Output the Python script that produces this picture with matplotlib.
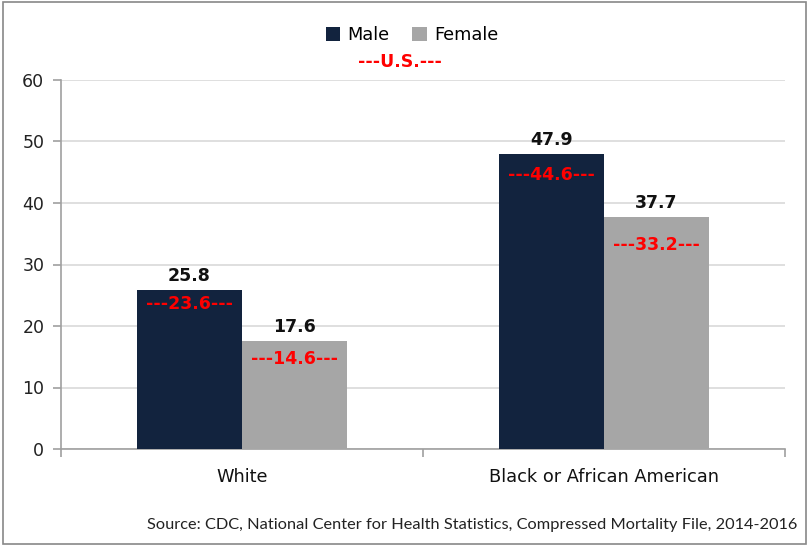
import matplotlib
matplotlib.use("Agg")
import matplotlib.pyplot as plt
import numpy as np
from matplotlib.patches import Rectangle

categories = ["White", "Black or African American"]
male = [25.8, 47.9]
female = [17.6, 37.7]
us_male = [23.6, 44.6]
us_female = [14.6, 33.2]
yticks = [0, 10, 20, 30, 40, 50, 60]

male_color = "#12233E"
female_color = "#A6A6A6"
red = "#FF0000"

fig = plt.figure(figsize=(8.09, 5.46), dpi=100)
ax = fig.add_axes([61/809, 1-449/546, (785-61)/809, (449-80)/546])

x = np.arange(len(categories))
w = 0.29
ax.bar(x - w/2, male, w, color=male_color, label="Male", zorder=3)
ax.bar(x + w/2, female, w, color=female_color, label="Female", zorder=3)

lab_fs = 12.5
for i in range(len(categories)):
    ax.text(x[i] - w/2, male[i] + 0.8, f"{male[i]:.1f}", ha="center", va="bottom",
            fontsize=lab_fs, fontweight="bold", color="#111111", zorder=4)
    ax.text(x[i] + w/2, female[i] + 0.8, f"{female[i]:.1f}", ha="center", va="bottom",
            fontsize=lab_fs, fontweight="bold", color="#111111", zorder=4)
    ax.text(x[i] - w/2, us_male[i], f"---{us_male[i]:.1f}---", ha="center", va="center",
            fontsize=lab_fs, fontweight="bold", color=red, zorder=4)
    ax.text(x[i] + w/2, us_female[i], f"---{us_female[i]:.1f}---", ha="center", va="center",
            fontsize=lab_fs, fontweight="bold", color=red, zorder=4)

ax.set_xlim(-0.5, len(categories) - 0.5)
ax.set_ylim(0, 60)
ax.set_yticks(yticks)
ax.set_yticklabels([str(t) for t in yticks], fontsize=12.5, color="#222222")
ax.yaxis.grid(True, color="#D9D9D9", linewidth=1.2, zorder=0)
ax.set_axisbelow(True)

ax.set_xticks(x)
ax.set_xticklabels(categories, fontsize=12.8, color="#111111")
ax.tick_params(axis="x", length=0, pad=14)
ax.set_xticks([-0.5, 0.5, 1.5], minor=True)
ax.tick_params(axis="x", which="minor", length=6, color="#A0A0A0", width=1.2)
ax.tick_params(axis="y", length=6, color="#A0A0A0", width=1.2, pad=6)

for s in ["top", "right"]:
    ax.spines[s].set_visible(False)
for s in ["left", "bottom"]:
    ax.spines[s].set_color("#A0A0A0")
    ax.spines[s].set_linewidth(1.2)

leg = fig.legend(loc="center", bbox_to_anchor=(412/809, 1-35/546), ncol=2, frameon=False,
                 fontsize=12.8, handlelength=0.8, handleheight=0.8, handletextpad=0.4,
                 columnspacing=1.3)
fig.text(400/809, 1-62/546, "---U.S.---", ha="center", va="center", fontsize=12.5,
         fontweight="bold", color=red)

fig.text(797/809, 1-525/546,
         "Source: CDC, National Center for Health Statistics, Compressed Mortality File, 2014-2016",
         ha="right", va="center", fontsize=11.8, family="Lato", color="#222222")

fig.patches.append(Rectangle((0.004, 0.004), 0.992, 0.992, transform=fig.transFigure,
                             fill=False, edgecolor="#888888", linewidth=1.2))

fig.savefig("out.png", dpi=100)
